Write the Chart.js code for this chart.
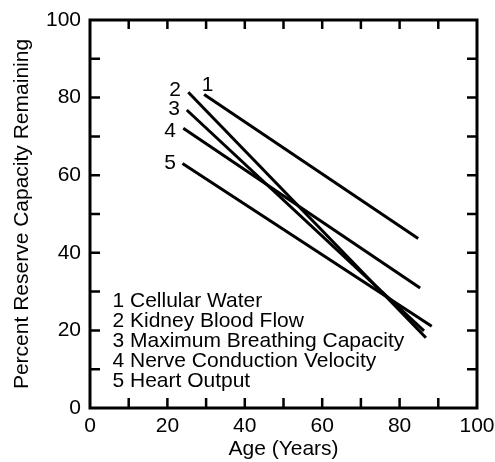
<!DOCTYPE html>
<html>
<head>
<meta charset="utf-8">
<script src="https://cdn.jsdelivr.net/npm/chart.js@4"></script>
<style>
  html, body { margin: 0; padding: 0; background: #fff; }
  #wrap { width: 495px; height: 462px; }
</style>
</head>
<body>
<div id="wrap"><canvas id="chart"></canvas></div>
<script>
// Endpoints of each decline line (start age, end age) and values
const seriesNames = ['Cellular Water', 'Kidney Blood Flow', 'Maximum Breathing Capacity',
                     'Nerve Conduction Velocity', 'Heart Output'];
const startAge = [29.5, 25.4, 25.0, 24.1, 23.9];
const startVal = [80.8, 81.4, 76.8, 72.1, 63.0];
const endAge   = [84.8, 86.8, 86.3, 85.3, 88.3];
const endVal   = [43.7, 18.1, 19.9, 30.9, 21.1];
const xTicks = [0, 20, 40, 60, 80, 100];
const yTicks = [0, 20, 40, 60, 80, 100];

const font = "'Liberation Sans', Arial, sans-serif";
const fs = 21;

const datasets = seriesNames.map((name, i) => ({
    label: (i + 1) + ' ' + name,
    data: [{ x: startAge[i], y: startVal[i] }, { x: endAge[i], y: endVal[i] }],
    borderColor: '#000',
    borderWidth: 3,
    pointRadius: 0,
    fill: false,
    tension: 0
}));

// frame, inside ticks, line numbers and the text legend
const framePlugin = {
    id: 'frame',
    afterDraw(chart) {
        const { ctx, chartArea: a, scales } = chart;
        const xs = scales.x, ys = scales.y;
        ctx.save();
        ctx.strokeStyle = '#000';
        ctx.lineWidth = 3;
        ctx.strokeRect(a.left, a.top, a.right - a.left, a.bottom - a.top);
        ctx.lineWidth = 2.5;
        for (let v = 10; v < 100; v += 10) {
            const px = xs.getPixelForValue(v);
            const py = ys.getPixelForValue(v);
            ctx.beginPath();
            ctx.moveTo(px, a.bottom); ctx.lineTo(px, a.bottom - 10);
            ctx.moveTo(px, a.top); ctx.lineTo(px, a.top + 9);
            ctx.moveTo(a.left, py); ctx.lineTo(a.left + 10, py);
            ctx.moveTo(a.right, py); ctx.lineTo(a.right - 10, py);
            ctx.stroke();
        }
        ctx.fillStyle = '#000';
        ctx.font = fs + 'px ' + font;
        ctx.textBaseline = 'middle';
        // numbers next to line starts
        ctx.textAlign = 'center';
        const numPos = [[30.4, 83.3], [22.0, 82.0], [21.7, 77.1], [20.7, 71.4], [20.7, 63.1]];
        numPos.forEach((p, i) => {
            ctx.fillText(String(i + 1), xs.getPixelForValue(p[0]), ys.getPixelForValue(p[1]));
        });
        // legend text
        ctx.textAlign = 'left';
        const legY = [27.5, 22.3, 17.1, 12.0, 6.8];
        seriesNames.forEach((n, i) => {
            ctx.fillText((i + 1) + ' ' + n, xs.getPixelForValue(5.8), ys.getPixelForValue(legY[i]));
        });
        ctx.restore();
    }
};

new Chart(document.getElementById('chart'), {
    type: 'line',
    data: { datasets },
    plugins: [framePlugin],
    options: {
        responsive: true,
        maintainAspectRatio: false,
        animation: false,
        layout: { padding: { top: 20, right: 18 } },
        plugins: { legend: { display: false }, tooltip: { enabled: false } },
        scales: {
            x: {
                type: 'linear', min: 0, max: 100,
                afterBuildTicks: s => { s.ticks = xTicks.map(v => ({ value: v })); },
                afterFit: s => { s.height = 54; s.paddingLeft = 0; s.paddingRight = 0; },
                grid: { display: false, drawTicks: false },
                border: { display: false },
                ticks: { color: '#000', font: { family: font, size: fs }, padding: 6,
                         maxRotation: 0, autoSkip: false },
                title: { display: true, text: 'Age (Years)', color: '#000',
                         font: { family: font, size: fs }, padding: { top: 0, bottom: 0 } }
            },
            y: {
                type: 'linear', min: 0, max: 100,
                afterBuildTicks: s => { s.ticks = yTicks.map(v => ({ value: v })); },
                afterFit: s => { s.width = 90; s.paddingTop = 0; s.paddingBottom = 0; },
                grid: { display: false, drawTicks: false },
                border: { display: false },
                ticks: { color: '#000', font: { family: font, size: fs }, padding: 9, autoSkip: false },
                title: { display: true, text: 'Percent Reserve Capacity Remaining', color: '#000',
                         font: { family: font, size: fs }, padding: { top: 10, bottom: 0 } }
            }
        }
    }
});
</script>
</body>
</html>
